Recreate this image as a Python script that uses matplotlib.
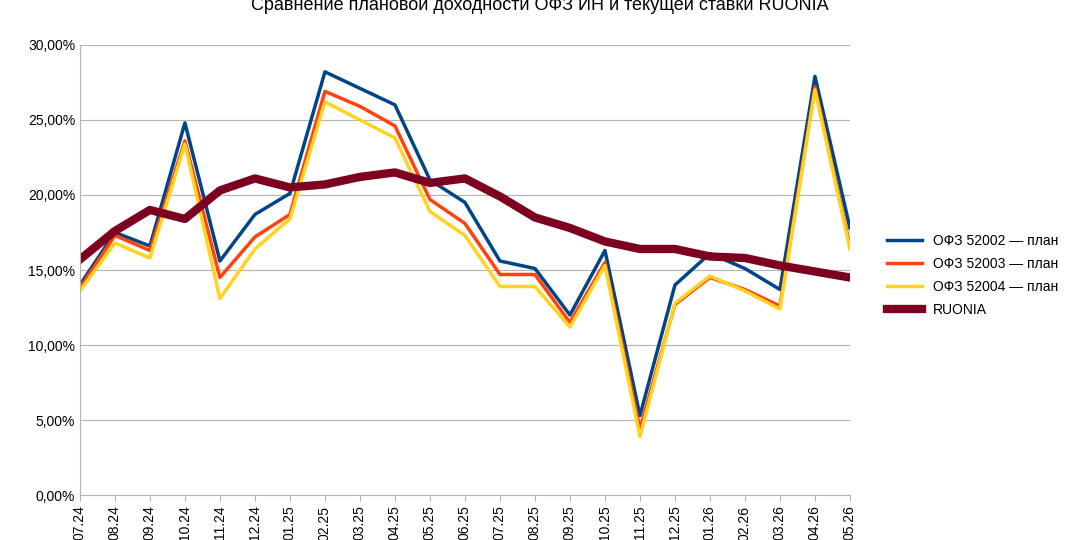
import matplotlib
matplotlib.use("Agg")
import matplotlib.pyplot as plt
from matplotlib.ticker import FuncFormatter

months = ["07.24","08.24","09.24","10.24","11.24","12.24","01.25","02.25","03.25","04.25","05.25","06.25",
          "07.25","08.25","09.25","10.25","11.25","12.25","01.26","02.26","03.26","04.26","05.26"]
ofz52002 = [14.0,17.5,16.6,24.8,15.6,18.7,20.1,28.2,27.1,26.0,21.0,19.5,15.6,15.1,12.0,16.3,5.3,14.0,16.1,15.1,13.7,27.9,17.8]
ofz52003 = [13.8,17.3,16.3,23.6,14.5,17.2,18.7,26.9,25.9,24.6,19.7,18.1,14.7,14.7,11.5,15.5,4.4,12.7,14.5,13.7,12.6,27.2,16.6]
ofz52004 = [13.6,16.8,15.8,23.4,13.1,16.4,18.4,26.2,25.0,23.8,18.9,17.3,13.9,13.9,11.2,15.3,3.9,12.8,14.6,13.6,12.4,27.0,16.4]
ruonia   = [15.7,17.6,19.0,18.4,20.3,21.1,20.5,20.7,21.2,21.5,20.8,21.1,19.9,18.5,17.8,16.9,16.4,16.4,15.9,15.8,15.3,14.9,14.5]

plt.rcParams['font.family'] = ['Liberation Sans', 'DejaVu Sans']
fig = plt.figure(figsize=(10.8, 5.4), dpi=100)
ax = fig.add_axes([0.074, 0.083, 0.713, 0.834])
x = range(len(months))
ax.plot(x, ofz52002, color="#004586", lw=2.5, label="ОФЗ 52002 — план")
ax.plot(x, ofz52003, color="#ff420e", lw=2.5, label="ОФЗ 52003 — план")
ax.plot(x, ofz52004, color="#ffd320", lw=2.5, label="ОФЗ 52004 — план")
ax.plot(x, ruonia, color="#7e0021", lw=6, label="RUONIA")
ax.set_xlim(0, len(months)-1)
ax.set_ylim(0, 30)
ax.set_yticks(range(0, 31, 5))
ax.yaxis.set_major_formatter(FuncFormatter(lambda v, p: f"{v:.2f}%".replace(".", ",")))
ax.set_xticks(list(x))
ax.set_xticklabels(months, rotation=90, fontsize=10)
ax.tick_params(axis='y', labelsize=10, length=0)
ax.tick_params(axis='x', length=4, color="#b3b3b3")
ax.grid(axis='y', color="#b3b3b3", lw=0.8)
for s in ["top", "right"]:
    ax.spines[s].set_visible(False)
for s in ["left", "bottom"]:
    ax.spines[s].set_color("#b3b3b3")
ax.set_axisbelow(True)
fig.text(0.5, 0.99, "Сравнение плановой доходности ОФЗ ИН и текущей ставки RUONIA",
         ha="center", va="center", fontsize=13)
fig.legend(loc="center left", bbox_to_anchor=(0.81, 0.49), frameon=False, fontsize=10,
           handlelength=2.5, labelspacing=0.65)
fig.savefig("out.png", dpi=100)
